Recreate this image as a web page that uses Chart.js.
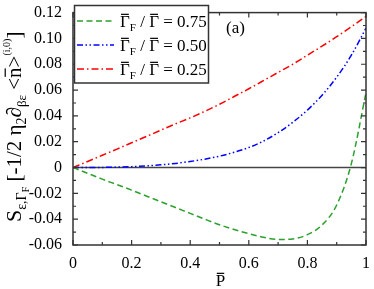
<!DOCTYPE html>
<html>
<head>
<meta charset="utf-8">
<script src="https://cdn.jsdelivr.net/npm/chart.js@4.4.1/dist/chart.umd.min.js"></script>
<style>
  html, body { margin: 0; padding: 0; background: #fff; }
</style>
</head>
<body>
<canvas id="grafico" width="374" height="289"></canvas>
<script>
// P values (x axis)
var pValores = [0, 0.05, 0.1, 0.15, 0.2, 0.25, 0.3, 0.35, 0.4, 0.45, 0.5,
                0.55, 0.6, 0.65, 0.7, 0.75, 0.8, 0.85, 0.9, 0.95, 1.0];

// curves for GammaF / Gamma = 0.75, 0.50, 0.25
var serie075 = [0, -0.0045, -0.009, -0.0132, -0.0175, -0.022, -0.0265, -0.031, -0.0355, -0.040, -0.0443,
                -0.048, -0.0512, -0.054, -0.0557, -0.0553, -0.052, -0.0445, -0.029, 0.003, 0.058];
var serie050 = [0, 0, 0.0001, 0.0003, 0.0007, 0.0013, 0.0021, 0.0032, 0.0047, 0.0065, 0.0088,
                0.0118, 0.0155, 0.0205, 0.027, 0.035, 0.0445, 0.056, 0.070, 0.087, 0.108];
var serie025 = [0, 0.0047, 0.0095, 0.0143, 0.0192, 0.024, 0.029, 0.0338, 0.0385, 0.0435, 0.049,
                0.055, 0.061, 0.0673, 0.0737, 0.080, 0.087, 0.094, 0.1013, 0.109, 0.117];

var razoes = ['0.75', '0.50', '0.25'];
var cores = ['#2ca02c', '#0000ff', '#ff0000'];
var tracos = [[6, 3.5], [6, 2.5, 1.5, 2.5, 1.5, 2.5], [7, 3, 1.5, 3]];

var fonte = '"Liberation Serif", "Times New Roman", serif';

function pontos(ys) {
    return pValores.map(function (p, i) { return { x: p, y: ys[i] }; });
}

// draws a list of pieces of text: {t, s (size), dy, over}
function pedacos(ctx, lista, x, y) {
    lista.forEach(function (p) {
        ctx.font = p.s + 'px ' + fonte;
        var w = ctx.measureText(p.t).width;
        ctx.fillText(p.t, x, y + (p.dy || 0));
        if (p.over) {
            ctx.fillRect(x + 1, y + (p.dy || 0) - p.s * 0.78, w - 2, 1.2);
        }
        x += w;
    });
    return x;
}
function largura(ctx, lista) {
    var w = 0;
    lista.forEach(function (p) {
        ctx.font = p.s + 'px ' + fonte;
        w += ctx.measureText(p.t).width;
    });
    return w;
}

var eixoTitulo = [
    { t: 'S', s: 22 },
    { t: '\u03b5,\u0393', s: 14, dy: 5 },
    { t: 'F', s: 10, dy: 8 },
    { t: ' [-1/2 \u03b7', s: 21 },
    { t: '2', s: 14, dy: 5 },
    { t: '\u2202', s: 21 },
    { t: '\u03b2\u03b5', s: 13, dy: 5 },
    { t: ' <', s: 21 },
    { t: 'n', s: 21, over: true },
    { t: '>', s: 21 },
    { t: '(i,0)', s: 10, dy: -11 },
    { t: ']', s: 21 }
];

var molduraPlugin = {
    id: 'moldura',
    beforeDatasetsDraw: function (chart) {
        var ctx = chart.ctx, a = chart.chartArea;
        var y0 = chart.scales.y.getPixelForValue(0);
        ctx.save();
        ctx.strokeStyle = '#444';
        ctx.lineWidth = 1.5;
        ctx.beginPath();
        ctx.moveTo(a.left, y0);
        ctx.lineTo(a.right, y0);
        ctx.stroke();
        ctx.restore();
    },
    afterDraw: function (chart) {
        var ctx = chart.ctx, a = chart.chartArea;
        var sx = chart.scales.x, sy = chart.scales.y;
        ctx.save();
        ctx.strokeStyle = '#333';
        ctx.lineWidth = 1.5;
        ctx.strokeRect(a.left, a.top, a.right - a.left, a.bottom - a.top);

        // ticks pointing inward
        ctx.lineWidth = 1.2;
        ctx.beginPath();
        for (var i = 0; i <= 10; i++) {
            var px = sx.getPixelForValue(i / 10);
            var l = i % 2 === 0 ? 5 : 3;
            ctx.moveTo(px, a.bottom); ctx.lineTo(px, a.bottom - l);
            ctx.moveTo(px, a.top); ctx.lineTo(px, a.top + l);
        }
        for (var j = -6; j <= 12; j++) {
            var py = sy.getPixelForValue(j / 100);
            var m = j % 2 === 0 ? 5 : 3;
            ctx.moveTo(a.left, py); ctx.lineTo(a.left + m, py);
            ctx.moveTo(a.right, py); ctx.lineTo(a.right - m, py);
        }
        ctx.stroke();

        // legend
        ctx.fillStyle = '#fff';
        ctx.fillRect(74.5, 5.5, 134, 77.5);
        ctx.strokeStyle = '#333';
        ctx.lineWidth = 1.5;
        ctx.strokeRect(74.5, 5.5, 134, 77.5);
        chart.data.datasets.forEach(function (ds, k) {
            var yy = 21 + k * 24;
            ctx.save();
            ctx.strokeStyle = ds.borderColor;
            ctx.lineWidth = 1.5;
            ctx.setLineDash(ds.borderDash);
            ctx.beginPath();
            ctx.moveTo(77, yy);
            ctx.lineTo(114, yy);
            ctx.stroke();
            ctx.restore();
            ctx.fillStyle = '#000';
            ctx.textBaseline = 'alphabetic';
            ctx.textAlign = 'left';
            pedacos(ctx, [
                { t: '\u0393', s: 17, over: true },
                { t: 'F', s: 11, dy: 4 },
                { t: ' / ', s: 17 },
                { t: '\u0393', s: 17, over: true },
                { t: ' = ' + razoes[k], s: 17 }
            ], 120, yy + 6);
        });

        // panel label
        ctx.fillStyle = '#000';
        ctx.font = '17px ' + fonte;
        ctx.fillText('(a)', 226, 33);

        // x title
        var xt = [{ t: 'P', s: 17, over: true }];
        var cx = (a.left + a.right) / 2 - largura(ctx, xt) / 2 + 1;
        pedacos(ctx, xt, cx, 286);

        // y title, rotated
        var w = largura(ctx, eixoTitulo);
        ctx.save();
        ctx.translate(21, (a.top + a.bottom) / 2 + w / 2 - 2);
        ctx.rotate(-Math.PI / 2);
        pedacos(ctx, eixoTitulo, 0, 0);
        ctx.restore();
        ctx.restore();
    }
};

var ctx = document.getElementById('grafico').getContext('2d');
var meuGrafico = new Chart(ctx, {
    type: 'line',
    data: {
        datasets: [serie075, serie050, serie025].map(function (s, k) {
            return {
                label: razoes[k],
                data: pontos(s),
                borderColor: cores[k],
                borderWidth: 1.5,
                borderDash: tracos[k],
                pointRadius: 0,
                fill: false,
                cubicInterpolationMode: 'monotone'
            };
        })
    },
    options: {
        responsive: false,
        animation: false,
        devicePixelRatio: 1,
        layout: { padding: { top: 6, right: 8, left: 0, bottom: 0 } },
        plugins: { legend: { display: false }, tooltip: { enabled: false } },
        scales: {
            x: {
                type: 'linear',
                min: 0,
                max: 1,
                grid: { display: false },
                border: { display: false },
                ticks: {
                    stepSize: 0.2,
                    padding: 1,
                    maxRotation: 0,
                    color: '#000',
                    font: { family: fonte, size: 16 },
                    callback: function (v) {
                        if (Math.abs(v) < 1e-9) return '0';
                        if (Math.abs(v - 1) < 1e-9) return '1';
                        return v.toFixed(1);
                    }
                },
                afterFit: function (scale) { scale.height = 44; }
            },
            y: {
                min: -0.06,
                max: 0.12,
                grid: { display: false },
                border: { display: false },
                ticks: {
                    stepSize: 0.02,
                    padding: 3,
                    color: '#000',
                    font: { family: fonte, size: 16 },
                    callback: function (v) {
                        if (Math.abs(v) < 1e-9) return '0';
                        return v.toFixed(2);
                    }
                },
                afterFit: function (scale) { scale.width = 73; }
            }
        }
    },
    plugins: [molduraPlugin]
});
</script>
</body>
</html>
